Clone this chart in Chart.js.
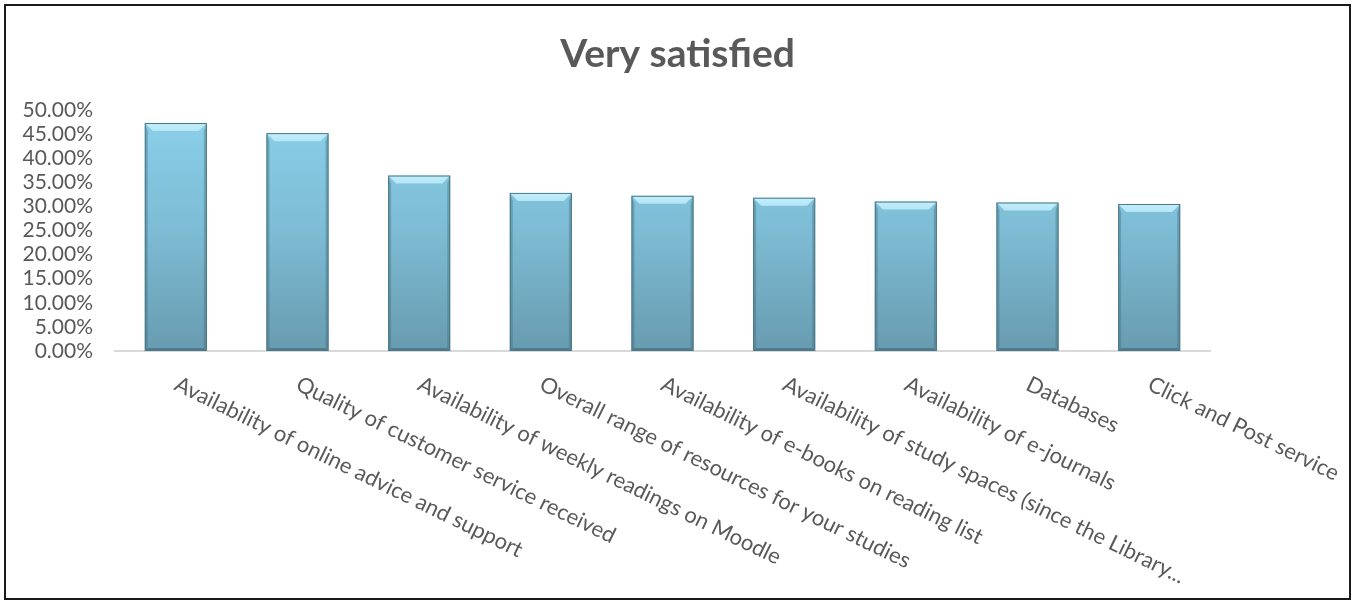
<!DOCTYPE html>
<html>
<head>
<meta charset="utf-8">
<title>Very satisfied</title>
<script src="https://cdn.jsdelivr.net/npm/chart.js@4"></script>
<style>
    html, body { margin: 0; padding: 0; background: #fff; }
    #frame {
        position: absolute;
        left: 4px;
        top: 4px;
        width: 1347px;
        height: 596px;
        border: 2px solid #1a1a1a;
        box-sizing: border-box;
        background: #fff;
    }
</style>
</head>
<body>
<div id="frame"><canvas id="satisfiedChart"></canvas></div>
<script>
// Share of respondents answering "Very satisfied", per library service
const categories = [
    'Availability of online advice and support',
    'Quality of customer service received',
    'Availability of weekly readings on Moodle',
    'Overall range of resources for your studies',
    'Availability of e-books on reading list',
    'Availability of study spaces (since the Library...',
    'Availability of e-journals',
    'Databases',
    'Click and Post service'
];
const verySatisfied = [47.3, 45.2, 36.4, 32.8, 32.2, 31.8, 31.0, 30.8, 30.5];
const yMin = 0;
const yMax = 50;
const yStep = 5;

const TITLE = 'Very satisfied';
const FONT = 'Lato, "Open Sans", sans-serif';

const COLORS = {
    text: '#595959',
    axis: '#d9d9d9',
    barTop: '#8bd0ea',
    barMid: '#7dbcd4',
    barBottom: '#689bb0',
    bevelLight: '#b4e6f6',
    edge: '#4b7888'
};

const LABEL_ANGLE = 26 * Math.PI / 180;

// vertical gradient for the bar bodies
function barGradient(context) {
    const area = context.chart.chartArea;
    if (!area) return COLORS.barMid;
    const g = context.chart.ctx.createLinearGradient(0, area.top, 0, area.bottom);
    g.addColorStop(0, COLORS.barTop);
    g.addColorStop(0.5, COLORS.barMid);
    g.addColorStop(1, COLORS.barBottom);
    return g;
}

// bevelled edges drawn over each bar, using the bar element geometry
const bevelPlugin = {
    id: 'bevel',
    afterDatasetsDraw(chart) {
        const ctx = chart.ctx;
        const meta = chart.getDatasetMeta(0);
        const b = 8;
        meta.data.forEach(bar => {
            const left = bar.x - bar.width / 2;
            const right = bar.x + bar.width / 2;
            const top = bar.y;
            const bottom = bar.base;
            ctx.save();
            // top bevel
            const tg = ctx.createLinearGradient(0, top, 0, top + b);
            tg.addColorStop(0, '#c4eefb');
            tg.addColorStop(1, COLORS.bevelLight);
            ctx.beginPath();
            ctx.moveTo(left, top);
            ctx.lineTo(right, top);
            ctx.lineTo(right - b, top + b);
            ctx.lineTo(left + b, top + b);
            ctx.closePath();
            ctx.fillStyle = tg;
            ctx.fill();
            // side bevels
            ctx.fillStyle = 'rgba(60, 100, 115, 0.35)';
            ctx.beginPath();
            ctx.moveTo(left, top);
            ctx.lineTo(left + 3, top + b);
            ctx.lineTo(left + 3, bottom - 3);
            ctx.lineTo(left, bottom);
            ctx.closePath();
            ctx.fill();
            ctx.beginPath();
            ctx.moveTo(right, top);
            ctx.lineTo(right - 3, top + b);
            ctx.lineTo(right - 3, bottom - 3);
            ctx.lineTo(right, bottom);
            ctx.closePath();
            ctx.fill();
            // bottom bevel
            ctx.fillStyle = 'rgba(50, 85, 100, 0.45)';
            ctx.beginPath();
            ctx.moveTo(left, bottom);
            ctx.lineTo(right, bottom);
            ctx.lineTo(right - 3, bottom - 3);
            ctx.lineTo(left + 3, bottom - 3);
            ctx.closePath();
            ctx.fill();
            // outline
            ctx.strokeStyle = COLORS.edge;
            ctx.lineWidth = 1;
            ctx.strokeRect(left + 0.5, top + 0.5, bar.width - 1, bottom - top - 1);
            ctx.restore();
        });
    }
};

// title centred on the whole canvas, plus slanted category labels
const textPlugin = {
    id: 'chartText',
    afterDraw(chart) {
        const ctx = chart.ctx;
        const xScale = chart.scales.x;
        ctx.save();
        ctx.fillStyle = COLORS.text;

        ctx.font = 'bold 39px ' + FONT;
        ctx.textAlign = 'center';
        ctx.textBaseline = 'middle';
        ctx.fillText(TITLE, chart.width / 2, 48);

        ctx.font = '22px ' + FONT;
        ctx.textAlign = 'left';
        ctx.textBaseline = 'top';
        categories.forEach((label, i) => {
            const x = xScale.getPixelForTick(i);
            ctx.save();
            ctx.translate(x + 5, xScale.top + 22);
            ctx.rotate(LABEL_ANGLE);
            ctx.fillText(label, 0, 0);
            ctx.restore();
        });
        ctx.restore();
    }
};

const ctx = document.getElementById('satisfiedChart').getContext('2d');

new Chart(ctx, {
    type: 'bar',
    data: {
        labels: categories,
        datasets: [{
            label: TITLE,
            data: verySatisfied,
            backgroundColor: barGradient,
            borderWidth: 0,
            barPercentage: 0.51,
            categoryPercentage: 1.0
        }]
    },
    options: {
        responsive: true,
        maintainAspectRatio: false,
        animation: false,
        layout: {
            padding: { left: 0, right: 139, top: 104, bottom: 0 }
        },
        plugins: {
            legend: { display: false },
            tooltip: { enabled: false },
            title: { display: false }
        },
        scales: {
            x: {
                grid: { display: false, drawTicks: false },
                border: { display: true, color: COLORS.axis, width: 2 },
                ticks: { display: false },
                afterFit: scale => { scale.height = 247; }
            },
            y: {
                min: yMin,
                max: yMax,
                grid: { display: false, drawTicks: false },
                border: { display: false },
                ticks: {
                    stepSize: yStep,
                    autoSkip: false,
                    color: COLORS.text,
                    padding: 22,
                    font: { family: FONT, size: 21 },
                    callback: v => v.toFixed(2) + '%'
                },
                afterFit: scale => { scale.width = 109; }
            }
        }
    },
    plugins: [bevelPlugin, textPlugin]
});
</script>
</body>
</html>
